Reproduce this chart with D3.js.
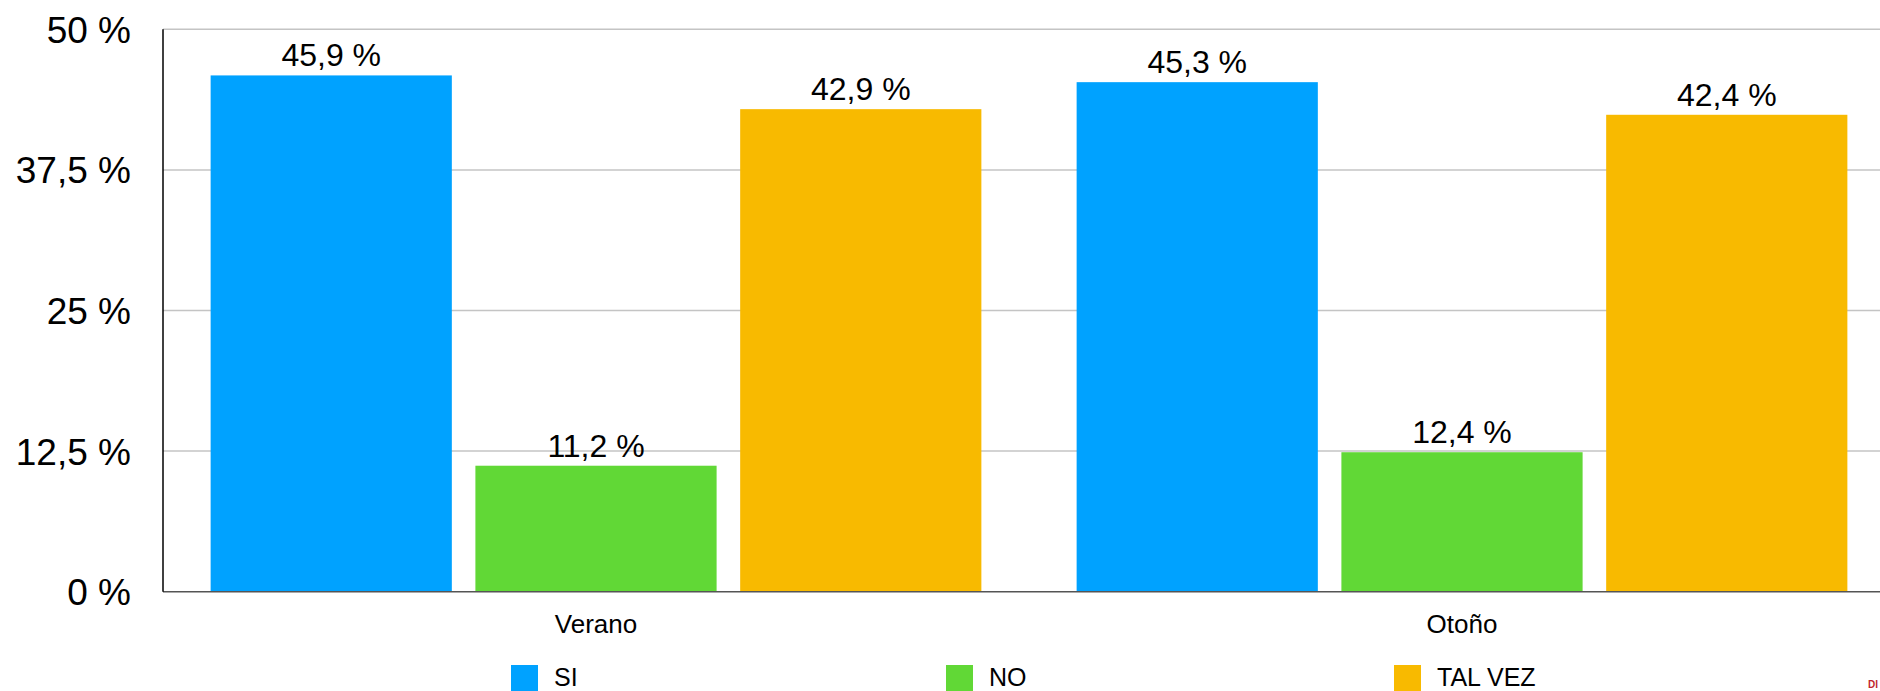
<!DOCTYPE html>
<html>
<head>
<meta charset="utf-8">
<script src="https://cdn.jsdelivr.net/npm/d3@7"></script>
<style>
  html, body { margin: 0; padding: 0; background: #fff; overflow: hidden; }
  svg { display: block; font-family: "Liberation Sans", Arial, Helvetica, sans-serif; }
</style>
</head>
<body>
<svg id="chart" width="1880" height="691"></svg>
<script>
// Seasons on the x axis
const categories = ["Verano", "Otoño"];
// Answer series
const seriesNames = ["SI", "NO", "TAL VEZ"];
const seriesColors = ["#00A2FF", "#61D836", "#F8BA00"];
// Percentages per season, one array per series
const siValues = [45.9, 45.3];
const noValues = [11.2, 12.4];
const talVezValues = [42.9, 42.4];
// Y axis ticks
const yTicks = [0, 12.5, 25, 37.5, 50];

const seriesValues = [siValues, noValues, talVezValues];
const fmt = v => String(v).replace(".", ",") + " %";

const svg = d3.select("#chart");

const plotLeft = 163, plotRight = 1895, plotTop = 29.3, plotBottom = 591.7;

const x0 = d3.scaleBand().domain(categories).range([plotLeft, plotRight])
  .paddingInner(0.11).paddingOuter(0.055);
const x1 = d3.scaleBand().domain(seriesNames).range([0, x0.bandwidth()])
  .paddingInner(0.089).paddingOuter(0);
const y = d3.scaleLinear().domain([0, 50]).range([plotBottom, plotTop]);
const color = d3.scaleOrdinal().domain(seriesNames).range(seriesColors);

// Horizontal gridlines
svg.append("g")
  .selectAll("line")
  .data(yTicks.filter(t => t > 0))
  .join("line")
  .attr("x1", plotLeft).attr("x2", 1880)
  .attr("y1", d => y(d)).attr("y2", d => y(d))
  .attr("stroke", "#c4c4c4").attr("stroke-width", 1.5);

// Y axis tick labels
const yAxis = d3.axisLeft(y).tickValues(yTicks).tickSize(0).tickPadding(0)
  .tickFormat(d => String(d).replace(".", ",") + " %");
const gy = svg.append("g").attr("transform", "translate(131,0)").call(yAxis);
gy.select(".domain").remove();
gy.selectAll("text")
  .attr("font-size", 37).attr("fill", "#000")
  .attr("font-family", "'Liberation Sans', Arial, sans-serif")
  .attr("dy", "0.35em");

// Bars
const rows = [];
categories.forEach((c, ci) => {
  seriesNames.forEach((s, si) => rows.push({ cat: c, series: s, value: seriesValues[si][ci] }));
});

const bars = svg.append("g");
bars.selectAll("rect")
  .data(rows)
  .join("rect")
  .attr("x", d => x0(d.cat) + x1(d.series))
  .attr("width", x1.bandwidth())
  .attr("y", d => y(d.value))
  .attr("height", d => y(0) - y(d.value))
  .attr("fill", d => color(d.series));

// Value labels above bars
bars.selectAll("text")
  .data(rows)
  .join("text")
  .attr("x", d => x0(d.cat) + x1(d.series) + x1.bandwidth() / 2)
  .attr("y", d => y(d.value) - 9)
  .attr("text-anchor", "middle")
  .attr("font-size", 32)
  .attr("fill", "#000")
  .text(d => fmt(d.value));

// Axis lines
svg.append("line")
  .attr("x1", plotLeft).attr("x2", 1880).attr("y1", plotBottom).attr("y2", plotBottom)
  .attr("stroke", "#555").attr("stroke-width", 1.5);
svg.append("line")
  .attr("x1", plotLeft).attr("x2", plotLeft).attr("y1", plotTop).attr("y2", plotBottom)
  .attr("stroke", "#000").attr("stroke-width", 1.5);

// Category labels
const xAxis = d3.axisBottom(x0).tickSize(0).tickPadding(0);
const gx = svg.append("g").attr("transform", `translate(0,${plotBottom})`).call(xAxis);
gx.select(".domain").remove();
gx.selectAll("text")
  .attr("font-size", 26).attr("fill", "#000")
  .attr("font-family", "'Liberation Sans', Arial, sans-serif")
  .attr("dy", 0).attr("y", 41);

// Legend along the bottom edge
const legendOffsets = [511, 946, 1394];
const legend = svg.append("g").selectAll("g")
  .data(seriesNames)
  .join("g")
  .attr("transform", (d, i) => `translate(${legendOffsets[i]},665)`);
legend.append("rect")
  .attr("width", 27).attr("height", 27)
  .attr("fill", d => color(d));
legend.append("text")
  .attr("x", 43).attr("y", 21)
  .attr("font-size", 25).attr("fill", "#000")
  .text(d => d);

// Corner mark
svg.append("text")
  .attr("x", 1868).attr("y", 688)
  .attr("font-size", 10).attr("font-weight", "bold")
  .attr("fill", "#c0262d")
  .text("DI");
</script>
</body>
</html>
